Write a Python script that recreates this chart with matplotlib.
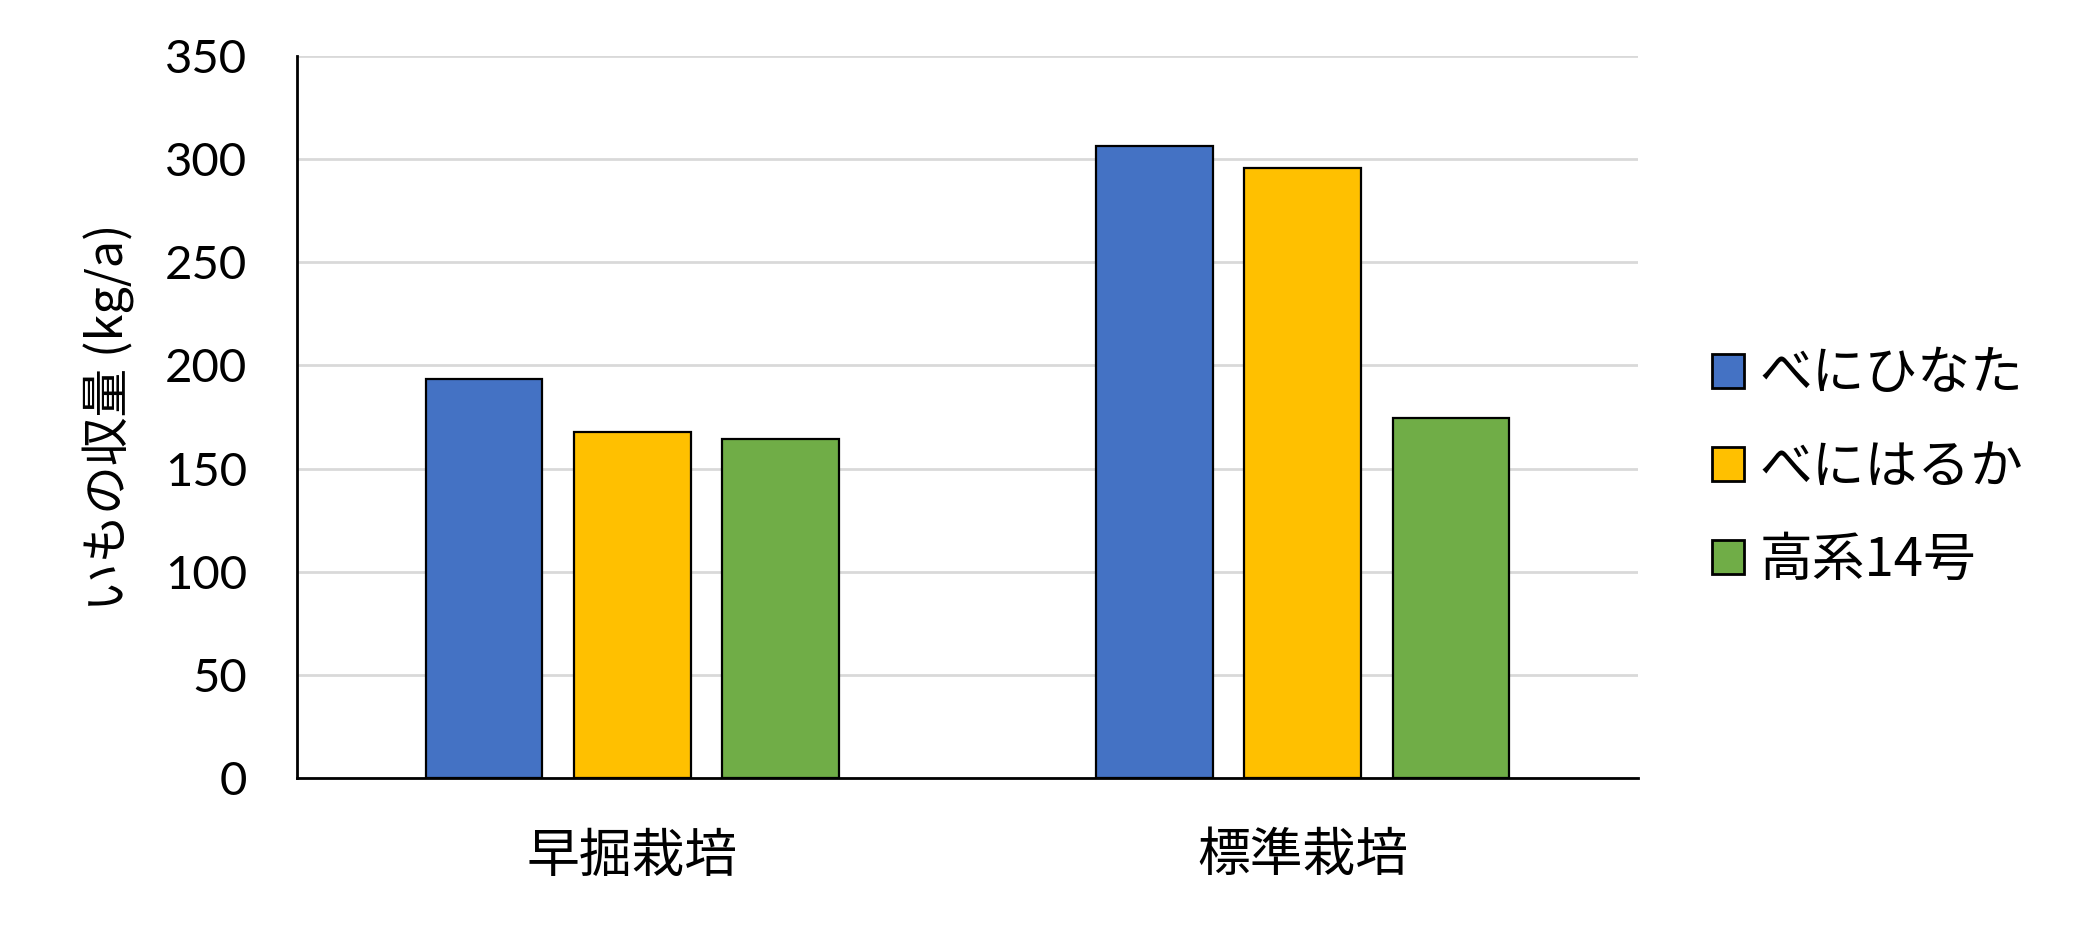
import matplotlib
matplotlib.use("Agg")
import matplotlib.pyplot as plt
import numpy as np

plt.rcParams['font.family'] = ['Noto Sans CJK JP', 'DejaVu Sans']

categories = ["早掘栽培", "標準栽培"]
series_names = ["べにひなた", "べにはるか", "高系14号"]
beni_hinata = [193.2, 306.4]
beni_haruka = [168.0, 295.6]
kokei14 = [164.3, 174.5]
colors = ["#4472C4", "#FFC000", "#70AD47"]
yticks = [0, 50, 100, 150, 200, 250, 300, 350]
ylabel = "いもの収量 (kg/a)"

fig = plt.figure(figsize=(20.78, 9.36), dpi=100)
ax = fig.add_axes([0.1429, 0.1683, 0.6454, 0.7722])

x = np.arange(len(categories))
bw = 0.174
step = 0.221
for i, (vals, c, name) in enumerate(zip([beni_hinata, beni_haruka, kokei14], colors, series_names)):
    ax.bar(x + (i - 1) * step, vals, width=bw, color=c, edgecolor="black",
           linewidth=1.6, label=name, zorder=3)

ax.set_xlim(-0.5, 1.5)
ax.set_ylim(0, 350)
ax.set_yticks(yticks)
ax.set_yticklabels([str(v) for v in yticks], family=['Lato', 'DejaVu Sans'], fontsize=34)
ax.set_xticks(x)
ax.set_xticklabels(categories, fontsize=38)
ax.tick_params(axis="y", length=0, pad=36)
ax.tick_params(axis="x", length=0, pad=36)
ax.yaxis.grid(True, color="#d9d9d9", linewidth=2, zorder=0)
ax.set_axisbelow(True)
for s in ["top", "right"]:
    ax.spines[s].set_visible(False)
ax.spines["left"].set_linewidth(2)
ax.spines["bottom"].set_linewidth(2)
ax.set_ylabel(ylabel, fontsize=35, labelpad=22)

leg = ax.legend(loc="center left", bbox_to_anchor=(1.02, 0.431), frameon=False,
                fontsize=38, handlelength=0.6, handleheight=0.6,
                handletextpad=0.3, labelspacing=0.72)
for p in leg.get_patches():
    p.set_linewidth(2)

fig.savefig("out.png", dpi=100, facecolor="white")
